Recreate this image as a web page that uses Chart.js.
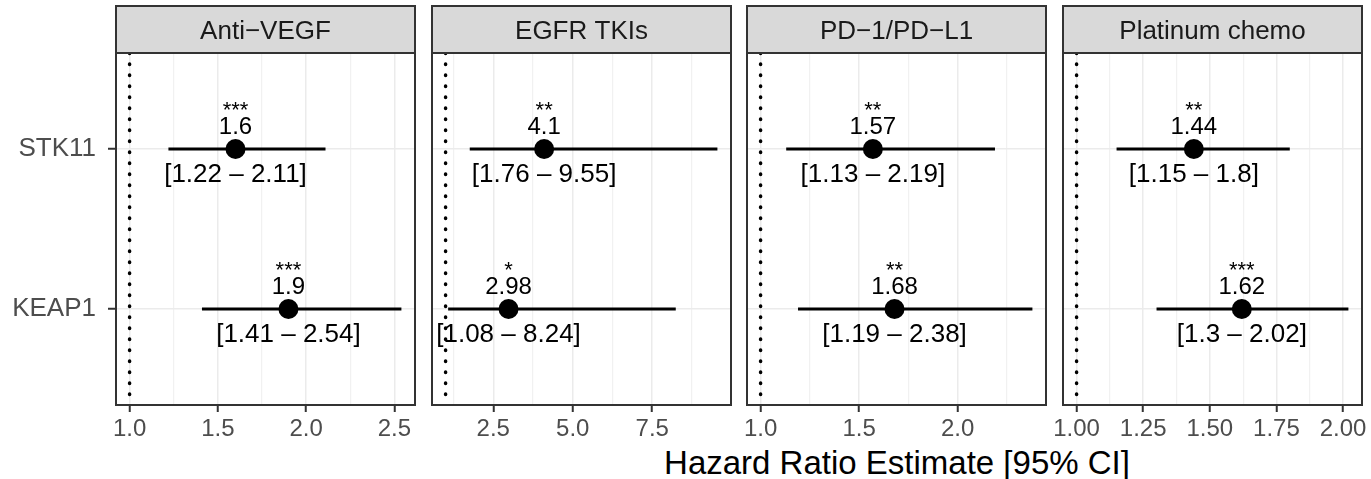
<!DOCTYPE html>
<html>
<head>
<meta charset="utf-8">
<script src="https://cdn.jsdelivr.net/npm/chart.js@4/dist/chart.umd.min.js"></script>
<style>
  body { margin: 0; background: #fff; width: 1371px; height: 479px; overflow: hidden; position: relative;
         font-family: "Liberation Sans", Arial, sans-serif; }
  canvas { position: absolute; top: 0; }
  #xtitle { position: absolute; left: 597px; width: 600px; top: 443px; line-height: 40px;
            font-size: 33px; text-align: center; color: #000; }
</style>
</head>
<body>
<div id="xtitle">Hazard Ratio Estimate [95% CI]</div>
<script>
const drugs = ['Anti−VEGF', 'EGFR TKIs', 'PD−1/PD−L1', 'Platinum chemo'];
const genes = ['STK11', 'KEAP1'];

const hrSTK11 = [1.6, 4.1, 1.57, 1.44];
const loSTK11 = [1.22, 1.76, 1.13, 1.15];
const hiSTK11 = [2.11, 9.55, 2.19, 1.8];
const sigSTK11 = ['***', '**', '**', '**'];

const hrKEAP1 = [1.9, 2.98, 1.68, 1.62];
const loKEAP1 = [1.41, 1.08, 1.19, 1.3];
const hiKEAP1 = [2.54, 8.24, 2.38, 2.02];
const sigKEAP1 = ['***', '*', '**', '***'];

const tickVals = [[1, 1.5, 2, 2.5], [2.5, 5, 7.5], [1, 1.5, 2], [1, 1.25, 1.5, 1.75, 2]];
const tickLabels = [['1.0', '1.5', '2.0', '2.5'], ['2.5', '5.0', '7.5'], ['1.0', '1.5', '2.0'],
                    ['1.00', '1.25', '1.50', '1.75', '2.00']];
const refLine = 1;

const FONT = '"Liberation Sans", Arial, sans-serif';
Chart.defaults.font.family = FONT;

const panelLeft = [116, 432, 747, 1063];
const panelW = 299;

drugs.forEach((drug, i) => {
  const hr = [hrSTK11[i], hrKEAP1[i]];
  const lo = [loSTK11[i], loKEAP1[i]];
  const hi = [hiSTK11[i], hiKEAP1[i]];
  const sig = [sigSTK11[i], sigKEAP1[i]];

  // ggplot-like 5% expansion, the reference line is part of the range
  const xmin = Math.min(refLine, ...lo), xmax = Math.max(refLine, ...hi);
  const pad = (xmax - xmin) * 0.05;

  // major ticks plus the minor breaks halfway between them
  const maj = tickVals[i];
  const half = (maj[1] - maj[0]) / 2;
  const xt = [];
  for (let k = -1; k <= 2 * (maj.length - 1) + 1; k++) {
    const v = maj[0] + k * half;
    if (v >= xmin - pad && v <= xmax + pad) xt.push({ value: v, isMajor: k % 2 === 0, lab: k % 2 === 0 ? tickLabels[i][k / 2] : '' });
  }

  const yW = i === 0 ? panelLeft[0] : 20;
  const cv = document.createElement('canvas');
  cv.width = yW + panelW + 30;
  cv.height = 479;
  cv.style.left = (panelLeft[i] - yW) + 'px';
  document.body.appendChild(cv);

  const facet = {
    id: 'facet' + i,
    beforeDatasetsDraw(chart) {
      const ctx = chart.ctx;
      const pts = chart.getDatasetMeta(0).data;
      ctx.save();
      ctx.fillStyle = '#000';
      ctx.textAlign = 'center';
      ctx.textBaseline = 'alphabetic';
      pts.forEach((p, g) => {
        ctx.font = '22px ' + FONT;
        ctx.fillText(sig[g], p.x, p.y - 32);
        ctx.font = '24px ' + FONT;
        ctx.fillText(String(hr[g]), p.x, p.y - 15);
        ctx.font = '26px ' + FONT;
        ctx.fillText('[' + lo[g] + ' – ' + hi[g] + ']', p.x, p.y + 33);
      });
      ctx.restore();
    },
    afterDraw(chart) {
      const { ctx, chartArea: a } = chart;
      ctx.save();
      ctx.strokeStyle = '#333';
      ctx.lineWidth = 2;
      ctx.strokeRect(a.left, a.top, a.right - a.left, a.bottom - a.top);
      ctx.fillStyle = '#D9D9D9';
      ctx.fillRect(a.left, 6, a.right - a.left, a.top - 6);
      ctx.strokeRect(a.left, 6, a.right - a.left, a.top - 6);
      ctx.fillStyle = '#1A1A1A';
      ctx.font = '26px ' + FONT;
      ctx.textAlign = 'center';
      ctx.textBaseline = 'alphabetic';
      ctx.fillText(drug, (a.left + a.right) / 2, 39);
      ctx.restore();
    }
  };

  new Chart(cv, {
    type: 'scatter',
    data: {
      datasets: [
        { data: hr.map((v, g) => ({ x: v, y: g })), pointRadius: 10, pointHoverRadius: 10,
          backgroundColor: '#000', borderWidth: 0 },
        ...genes.map((gene, g) => ({ data: [{ x: lo[g], y: g }, { x: hi[g], y: g }], showLine: true,
          borderColor: '#000', borderWidth: 3, pointRadius: 0 })),
        { data: [{ x: refLine, y: -0.6 }, { x: refLine, y: 1.6 }], showLine: true, borderColor: '#000',
          borderWidth: 3.5, borderDash: [0.5, 10.5], borderCapStyle: 'round', pointRadius: 0 }
      ]
    },
    options: {
      responsive: false,
      devicePixelRatio: 1,
      animation: false,
      events: [],
      layout: { padding: { left: 0, right: 30, top: 53, bottom: 0 } },
      plugins: { legend: { display: false }, tooltip: { enabled: false } },
      scales: {
        x: {
          type: 'linear', min: xmin - pad, max: xmax + pad,
          afterBuildTicks: s => { s.ticks = xt.map(t => ({ ...t })); },
          afterFit: s => { s.height = 74; },
          ticks: { autoSkip: false, maxRotation: 0, padding: 3, color: '#4D4D4D', font: { size: 24 },
                   callback: (v, idx, ts) => ts[idx].lab },
          grid: { color: c => (c.tick && c.tick.isMajor) ? '#EBEBEB' : '#F1F1F1',
                  lineWidth: c => (c.tick && c.tick.isMajor) ? 1.5 : 1.2,
                  tickLength: 7, tickWidth: 2,
                  tickColor: c => (c.tick && c.tick.isMajor) ? '#333' : 'rgba(0,0,0,0)' },
          border: { display: false }
        },
        y: {
          type: 'linear', min: -0.6, max: 1.6, reverse: true,
          afterBuildTicks: s => { s.ticks = genes.map((g, k) => ({ value: k })); },
          afterFit: s => { s.width = yW; },
          ticks: { display: i === 0, padding: 12, color: '#4D4D4D', font: { size: 26 },
                   callback: v => genes[v] },
          grid: { color: '#EBEBEB', lineWidth: 1.5, drawTicks: i === 0, tickLength: 8, tickWidth: 2, tickColor: '#333' },
          border: { display: false }
        }
      }
    },
    plugins: [facet]
  });
});
</script>
</body>
</html>
